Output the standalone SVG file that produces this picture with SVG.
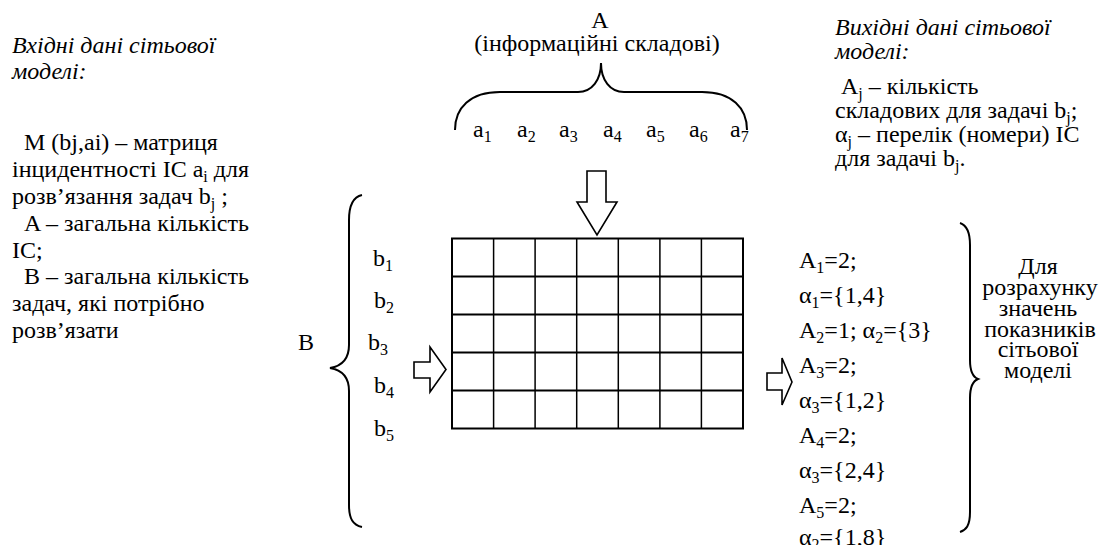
<svg xmlns="http://www.w3.org/2000/svg" width="1101" height="545" viewBox="0 0 1101 545" font-family="Liberation Serif, Times New Roman, serif" font-size="24">
<style>
.t{font-family:'Liberation Serif','Times New Roman',serif;font-size:24px;fill:#000}
.it{font-style:italic}
.sub{font-size:16px}
.ln{fill:none;stroke:#000;stroke-width:2}
.vl{fill:none;stroke:#000;stroke-width:1.5}
.arr{fill:#fff;stroke:#000;stroke-width:1.6}
.br{fill:none;stroke:#000;stroke-width:2}
</style>
<rect width="1101" height="545" fill="#fff"/>
<g id="input-text">
<text class="t it" x="12" y="53">Вхідні дані сітьової</text>
<text class="t it" x="12" y="79">моделі:</text>
<text class="t" x="24" y="150">M (bj,ai) – матриця</text>
<text class="t" x="12" y="177">інцидентності IC a<tspan class="sub" dy="5">i</tspan><tspan dy="-5"> для</tspan></text>
<text class="t" x="12" y="204">розв’язання задач b<tspan class="sub" dy="5">j</tspan><tspan dy="-5"> ;</tspan></text>
<text class="t" x="24" y="231">A – загальна кількість</text>
<text class="t" x="12" y="258">IC;</text>
<text class="t" x="24" y="284">B – загальна кількість</text>
<text class="t" x="12" y="311">задач, які потрібно</text>
<text class="t" x="12" y="338">розв’язати</text>
</g>
<g id="header-A" text-anchor="middle">
<text class="t" x="600" y="28">A</text>
<text class="t" x="597" y="51">(інформаційні складові)</text>
</g>
<g id="a-labels">
<text class="t" x="473" y="137">a<tspan class="sub" dy="5">1</tspan></text>
<text class="t" x="517" y="137">a<tspan class="sub" dy="5">2</tspan></text>
<text class="t" x="559" y="137">a<tspan class="sub" dy="5">3</tspan></text>
<text class="t" x="603" y="137">a<tspan class="sub" dy="5">4</tspan></text>
<text class="t" x="646" y="137">a<tspan class="sub" dy="5">5</tspan></text>
<text class="t" x="689" y="137">a<tspan class="sub" dy="5">6</tspan></text>
<text class="t" x="730" y="137">a<tspan class="sub" dy="5">7</tspan></text>
</g>
<g id="output-text">
<text class="t it" x="835" y="35">Вихідні дані сітьової</text>
<text class="t it" x="835" y="59">моделі:</text>
<text class="t" x="841" y="94">A<tspan class="sub" dy="5">j</tspan><tspan dy="-5"> – кількість</tspan></text>
<text class="t" x="835" y="118">складових для задачі b<tspan class="sub" dy="5">j</tspan><tspan dy="-5">;</tspan></text>
<text class="t" x="835" y="142">α<tspan class="sub" dy="5">j</tspan><tspan dy="-5"> – перелік (номери) IC</tspan></text>
<text class="t" x="835" y="166">для задачі b<tspan class="sub" dy="5">j</tspan><tspan dy="-5">.</tspan></text>
</g>
<g id="B-group">
<text class="t" x="298" y="350">B</text>
<text class="t" x="373" y="266">b<tspan class="sub" dy="5">1</tspan></text>
<text class="t" x="374" y="308">b<tspan class="sub" dy="5">2</tspan></text>
<text class="t" x="368" y="350">b<tspan class="sub" dy="5">3</tspan></text>
<text class="t" x="374" y="393">b<tspan class="sub" dy="5">4</tspan></text>
<text class="t" x="374" y="436">b<tspan class="sub" dy="5">5</tspan></text>
</g>
<g id="matrix">
<rect class="ln" x="452" y="238.5" width="291" height="190"/>
<path class="ln" d="M452,276.5H743M452,314.5H743M452,352.5H743M452,390.5H743"/>
<path class="vl" d="M493.6,238.5V428.5M535.1,238.5V428.5M576.7,238.5V428.5M618.3,238.5V428.5M659.9,238.5V428.5M701.4,238.5V428.5"/>
</g>
<g id="result-list">
<text class="t" x="799" y="268">A<tspan class="sub" dy="5">1</tspan><tspan dy="-5">=2;</tspan></text>
<text class="t" x="799" y="303">α<tspan class="sub" dy="5">1</tspan><tspan dy="-5">={1,4}</tspan></text>
<text class="t" x="799" y="338">A<tspan class="sub" dy="5">2</tspan><tspan dy="-5">=1; α</tspan><tspan class="sub" dy="5">2</tspan><tspan dy="-5">={3}</tspan></text>
<text class="t" x="799" y="373">A<tspan class="sub" dy="5">3</tspan><tspan dy="-5">=2;</tspan></text>
<text class="t" x="799" y="408">α<tspan class="sub" dy="5">3</tspan><tspan dy="-5">={1,2}</tspan></text>
<text class="t" x="799" y="443">A<tspan class="sub" dy="5">4</tspan><tspan dy="-5">=2;</tspan></text>
<text class="t" x="799" y="478">α<tspan class="sub" dy="5">3</tspan><tspan dy="-5">={2,4}</tspan></text>
<text class="t" x="799" y="513">A<tspan class="sub" dy="5">5</tspan><tspan dy="-5">=2;</tspan></text>
<text class="t" x="799" y="545">α<tspan class="sub" dy="5">2</tspan><tspan dy="-5">={1,8}</tspan></text>
</g>
<g id="purpose-text" text-anchor="middle">
<text class="t" x="1038" y="274">Для</text>
<text class="t" x="1040" y="295">розрахунку</text>
<text class="t" x="1038" y="316">значень</text>
<text class="t" x="1040" y="337">показників</text>
<text class="t" x="1038" y="357">сітьової</text>
<text class="t" x="1038" y="378">моделі</text>
</g>
<g id="connectors">
<path class="br" d="M455,130 C455,108 470,92 500,92 L578,92 C592,92 601,80 601,63 C601,80 610,92 624,92 L702,92 C732,92 747,108 747,130"/>
<path class="br" d="M362,195 C353,197 349,205 349,220 L349,345 C349,359 342,366 330,368 C342,370 349,377 349,391 L349,505 C349,519 353,525 362,527"/>
<path class="br" d="M960,223 C966,225 970,231 970,245 L970,360 C970,372 973,377 978,379 C973,381 970,386 970,398 L970,512 C970,526 966,530 960,532"/>
<polygon class="arr" points="587,171 606,171 606,202 617,202 597,235 577,202 587,202"/>
<polygon class="arr" points="414,362 430,362 430,347 446,369.5 430,392 430,378 414,378"/>
<polygon class="arr" points="767,373 782,373 782,358 792,382 782,405 782,390 767,390"/>
</g>
</svg>
